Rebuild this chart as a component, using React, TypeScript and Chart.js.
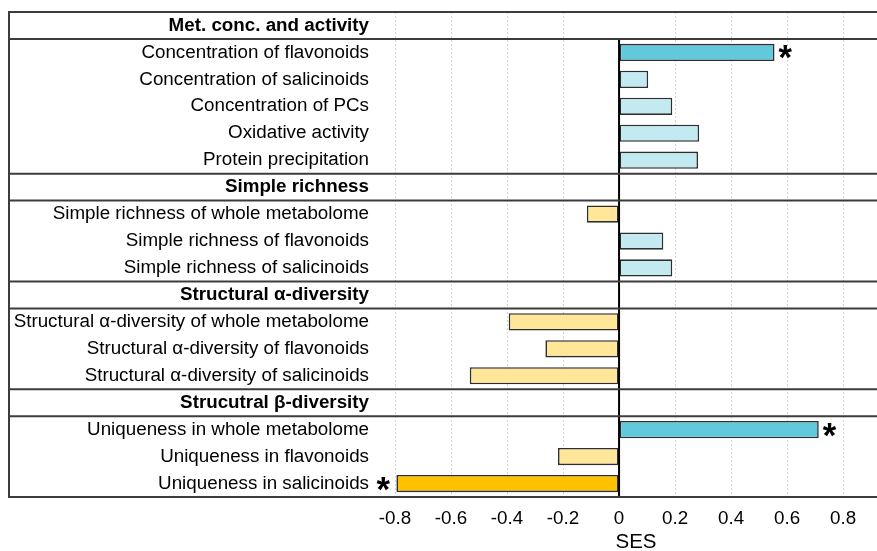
import React, { useEffect, useRef } from "react";
import { Chart, registerables } from "chart.js";

Chart.register(...registerables);

const categories: string[] = [
  "Met. conc. and activity",
  "Concentration of flavonoids",
  "Concentration of salicinoids",
  "Concentration of PCs",
  "Oxidative activity",
  "Protein precipitation",
  "Simple richness",
  "Simple richness of whole metabolome",
  "Simple richness of flavonoids",
  "Simple richness of salicinoids",
  "Structural α-diversity",
  "Structural α-diversity of whole metabolome",
  "Structural α-diversity of flavonoids",
  "Structural α-diversity of salicinoids",
  "Strucutral β-diversity",
  "Uniqueness in whole metabolome",
  "Uniqueness in flavonoids",
  "Uniqueness in salicinoids",
];

const isHeader: boolean[] = [
  true, false, false, false, false, false,
  true, false, false, false,
  true, false, false, false,
  true, false, false, false,
];

const sesValues: (number | null)[] = [
  null, 0.555, 0.104, 0.19, 0.286, 0.282,
  null, -0.115, 0.158, 0.19,
  null, -0.394, -0.263, -0.533,
  null, 0.713, -0.218, -0.795,
];

const significant: boolean[] = [
  false, true, false, false, false, false,
  false, false, false, false,
  false, false, false, false,
  false, true, false, true,
];

const xTickValues: number[] = [-0.8, -0.6, -0.4, -0.2, 0, 0.2, 0.4, 0.6, 0.8];
const xTitle = "SES";

const FONT = '"Liberation Sans", Arial, sans-serif';

function barColor(i: number): string {
  const v = sesValues[i];
  if (v === null) return "transparent";
  if (v >= 0) return significant[i] ? "#62C8DC" : "#C3E9F1";
  return significant[i] ? "#FFC000" : "#FFE699";
}

const tablePlugin = {
  id: "tableDecor",
  afterDatasetsDraw(chart: any) {
    const { ctx, chartArea } = chart;
    const { top, bottom } = chartArea;
    const xs = chart.scales.x;
    const rowH = (bottom - top) / categories.length;
    const x0 = xs.getPixelForValue(0);
    ctx.save();
    // zero line
    ctx.strokeStyle = "#000";
    ctx.lineWidth = 2;
    ctx.beginPath();
    ctx.moveTo(x0, top + rowH);
    ctx.lineTo(x0, bottom);
    ctx.stroke();
    // horizontal separators
    const bounds: number[] = [];
    isHeader.forEach((h, i) => {
      if (h) {
        if (!bounds.includes(i)) bounds.push(i);
        if (!bounds.includes(i + 1)) bounds.push(i + 1);
      }
    });
    bounds.push(categories.length);
    ctx.strokeStyle = "#3c3c3c";
    ctx.lineWidth = 2;
    for (const b of bounds) {
      const yy = top + b * rowH;
      ctx.beginPath();
      ctx.moveTo(8, yy);
      ctx.lineTo(chart.width, yy);
      ctx.stroke();
    }
    ctx.beginPath();
    ctx.moveTo(9, top - 1);
    ctx.lineTo(9, bottom + 1);
    ctx.stroke();
    // asterisks
    ctx.fillStyle = "#000";
    ctx.font = `bold 100px ${FONT}`;
    const m100 = ctx.measureText("*");
    const w100 = m100.actualBoundingBoxLeft + m100.actualBoundingBoxRight;
    const size = (13.5 * 100) / (w100 || 33);
    ctx.font = `bold ${size}px ${FONT}`;
    ctx.textAlign = "left";
    ctx.textBaseline = "alphabetic";
    const m = ctx.measureText("*");
    const meta = chart.getDatasetMeta(0);
    meta.data.forEach((bar: any, i: number) => {
      const v = sesValues[i];
      if (!significant[i] || v === null) return;
      const baseline = bar.y + (m.actualBoundingBoxAscent - m.actualBoundingBoxDescent) / 2;
      let tx: number;
      if (v > 0) tx = bar.x + 4 + m.actualBoundingBoxLeft;
      else tx = bar.x - 6 - m.actualBoundingBoxRight;
      ctx.fillText("*", tx, baseline);
    });
    ctx.restore();
  },
};

export default function App() {
  const ref = useRef<HTMLCanvasElement | null>(null);
  useEffect(() => {
    if (!ref.current) return;
    const chart = new Chart(ref.current, {
      type: "bar",
      data: {
        labels: categories,
        datasets: [
          {
            data: sesValues as any,
            backgroundColor: categories.map((_, i) => barColor(i)),
            borderColor: "#2e2e2e",
            borderWidth: 1.6,
            borderSkipped: false,
            barPercentage: 0.64,
            categoryPercentage: 1,
          },
        ],
      },
      options: {
        indexAxis: "y",
        animation: false,
        responsive: false,
        devicePixelRatio: 1,
        layout: { padding: { top: 12, left: 0, right: 0, bottom: 0 } },
        plugins: { legend: { display: false }, tooltip: { enabled: false } },
        scales: {
          x: {
            type: "linear",
            min: -0.8,
            max: 0.921,
            afterBuildTicks: (scale: any) => {
              scale.ticks = xTickValues.map((v) => ({ value: v }));
            },
            afterFit: (scale: any) => {
              scale.height = 54;
              scale.paddingLeft = 0;
              scale.paddingRight = 0;
            },
            ticks: {
              autoSkip: false,
              maxRotation: 0,
              padding: 11,
              color: "#000",
              font: { family: FONT, size: 18.8 },
              callback: (v: any) => {
                const n = Math.round(Number(v) * 10) / 10;
                return n === 0 ? "0" : String(n);
              },
            },
            grid: {
              drawTicks: false,
              color: (c: any) => (c.tick && c.tick.value === 0 ? "rgba(0,0,0,0)" : "#d4d4d4"),
              lineWidth: 1,
            },
            border: { display: false, dash: [2, 2] },
            title: {
              display: true,
              text: xTitle,
              color: "#000",
              font: { family: FONT, size: 20.5, lineHeight: 1.0 },
              padding: { top: 0, bottom: -2 },
            },
          },
          y: {
            type: "category",
            afterFit: (scale: any) => {
              scale.width = 395;
              scale.paddingTop = 0;
              scale.paddingBottom = 0;
            },
            ticks: {
              autoSkip: false,
              padding: 26,
              color: "#000",
              font: (c: any) => ({
                family: FONT,
                size: 18.8,
                weight: isHeader[c.index] ? "bold" : "normal",
              }),
            },
            grid: { display: false, drawTicks: false },
            border: { display: false },
          },
        },
      },
      plugins: [tablePlugin],
    } as any);
    return () => chart.destroy();
  }, []);
  return (
    <div style={{ position: "absolute", left: 0, top: 0, width: 877, height: 551 }}>
      <canvas ref={ref} width={877} height={551} style={{ width: 877, height: 551 }} />
    </div>
  );
}
